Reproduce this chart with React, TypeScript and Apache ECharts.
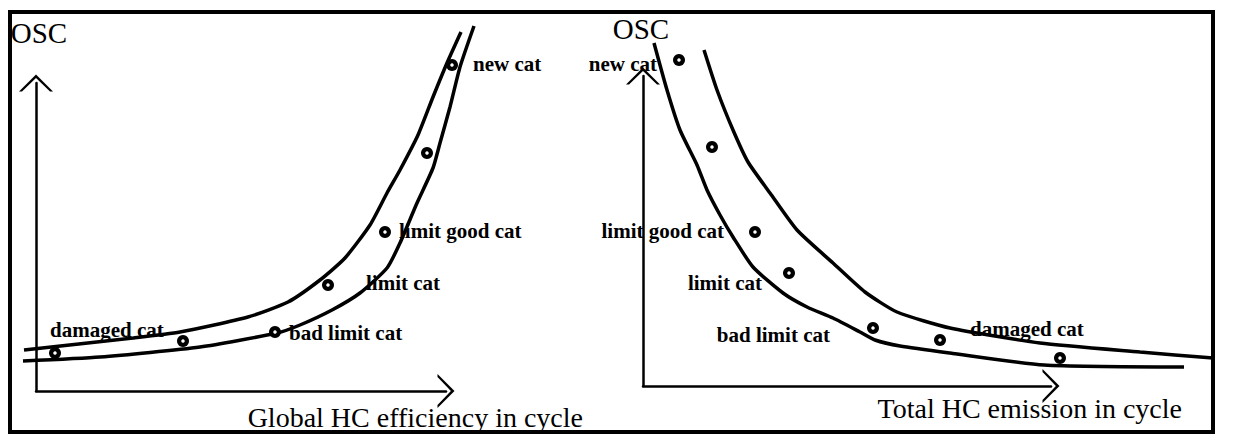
import { useEffect, useRef } from "react";
import * as echarts from "echarts";

// Left panel (Global HC efficiency vs OSC), schematic units
const leftUpper = [[-12, 41], [97, 53], [144, 59], [212, 74], [252, 89], [284, 111], [309, 133], [334, 166], [351, 198], [364, 221], [382, 256], [397, 294], [411, 328], [425, 359]];
const leftLower = [[-13, 30], [64, 34], [164, 44], [241, 58], [264, 66], [296, 81], [324, 98], [351, 123], [364, 148], [381, 188], [397, 223], [404, 248], [414, 284], [424, 324], [438, 365]];
const leftPoints = [[19, 38], [147, 50], [239, 59], [292, 106], [349, 159], [391, 238], [416, 326]];
const leftLabels = ["damaged cat", "", "bad limit cat", "limit cat", "limit good cat", "", "new cat"];

// Right panel (Total HC emission vs OSC), schematic units
const rightUpper = [[61, 336], [74, 296], [90, 256], [105, 224], [127, 193], [154, 156], [190, 123], [222, 94], [254, 74], [307, 58], [397, 43], [497, 34], [570, 28]];
const rightLower = [[11, 343], [24, 296], [37, 256], [54, 221], [64, 196], [77, 171], [90, 149], [110, 119], [140, 93], [164, 79], [190, 68], [217, 54], [232, 46], [257, 40], [307, 33], [401, 21], [541, 19]];
const rightPoints = [[36, 326], [69, 239], [112, 154], [146, 113], [230, 58], [297, 46], [417, 28]];
const rightLabels = ["new cat", "", "limit good cat", "limit cat", "bad limit cat", "damaged cat", ""];

const yName = "OSC";
const leftXName = "Global HC efficiency in cycle";
const rightXName = "Total HC emission in cycle";

// label placement (align, dx, dy) in pixels
const leftLabelLayout: any[] = [["left", -5, -23], null, ["left", 14, 1], ["left", 38, -2], ["left", 14, -1], null, ["left", 21, -1]];
const rightLabelLayout: any[] = [["right", -22, 4], null, ["right", -31, -1], ["right", -27, 10], ["right", -43, 7], ["left", 30, -11], null];

const FONT = "Liberation Serif";
const chevron = "path://M0,17 L17,0 L34,17 L31,17 L17,3.6 L3,17 Z";

function pointData(points: number[][], labels: string[], layout: any[]) {
  return points.map((p, i) => {
    const l = layout[i];
    if (!labels[i] || !l) return { value: p, label: { show: false } };
    return {
      value: p,
      label: {
        show: true,
        formatter: labels[i],
        position: "inside",
        align: l[0],
        verticalAlign: "middle",
        offset: [l[1], l[2]],
        color: "#000",
        fontFamily: FONT,
        fontWeight: "bold",
        fontSize: 21,
      },
    };
  });
}

const hidden = { axisLine: { show: false }, axisTick: { show: false }, axisLabel: { show: false }, splitLine: { show: false } };

function xAxisOpt(gridIndex: number, max: number, name: string, gap: number, padTop: number) {
  return {
    type: "value",
    gridIndex,
    min: 0,
    max,
    name,
    nameLocation: "end",
    nameGap: gap,
    nameTextStyle: { color: "#000", fontFamily: FONT, fontSize: 28, align: "right", verticalAlign: "top", padding: [padTop, 0, 0, 0] },
    axisLine: { show: true, symbol: ["none", chevron], symbolSize: [34, 17], lineStyle: { color: "#000", width: 2.5 } },
    axisTick: { show: false },
    axisLabel: { show: false },
    splitLine: { show: false },
  };
}

function yAxisOpt(gridIndex: number, max: number, gap: number, pad: number[]) {
  return {
    type: "value",
    gridIndex,
    min: 0,
    max,
    name: yName,
    nameLocation: "end",
    nameGap: gap,
    nameTextStyle: { color: "#000", fontFamily: FONT, fontSize: 29, align: "center", verticalAlign: "middle", padding: pad },
    axisLine: { show: true, symbol: ["none", chevron], symbolSize: [34, 17], lineStyle: { color: "#000", width: 2.5 } },
    axisTick: { show: false },
    axisLabel: { show: false },
    splitLine: { show: false },
  };
}

function lineSeries(data: number[][], idx: number) {
  return {
    type: "line",
    xAxisIndex: idx,
    yAxisIndex: idx,
    data,
    symbol: "none",
    showSymbol: false,
    smooth: 0.2,
    clip: false,
    silent: true,
    lineStyle: { color: "#000", width: 3.5 },
  };
}

function dotSeries(points: number[][], labels: string[], layout: any[], idx: number) {
  return [
    {
      type: "scatter",
      xAxisIndex: idx,
      yAxisIndex: idx,
      data: pointData(points, labels, layout),
      symbol: "circle",
      symbolSize: 12,
      clip: false,
      silent: true,
      z: 5,
      itemStyle: { color: "#000", opacity: 1 },
    },
    {
      type: "scatter",
      xAxisIndex: idx,
      yAxisIndex: idx,
      data: points,
      symbol: "circle",
      symbolSize: 3.5,
      clip: false,
      silent: true,
      z: 6,
      itemStyle: { color: "#fff", opacity: 1 },
    },
  ];
}

export default function App() {
  const ref = useRef<HTMLDivElement>(null);
  useEffect(() => {
    if (!ref.current) return;
    const chart = echarts.init(ref.current, null, { renderer: "svg" });
    chart.setOption({
      animation: false,
      backgroundColor: "#fff",
      grid: [
        // axis frames
        { left: 36, top: 83, width: 410, height: 308, containLabel: false, outerBoundsMode: "none" },
        { left: 643, top: 76, width: 408, height: 310, containLabel: false, outerBoundsMode: "none" },
        // data frames (same scale, wider so curves are not cut)
        { left: 16, top: 83, width: 470, height: 308, containLabel: false, outerBoundsMode: "none" },
        { left: 603, top: 76, width: 640, height: 310, containLabel: false, outerBoundsMode: "none" },
      ],
      xAxis: [
        xAxisOpt(0, 410, leftXName, 137, 12),
        xAxisOpt(1, 408, rightXName, 131, 8),
        { type: "value", gridIndex: 2, min: -20, max: 450, ...hidden },
        { type: "value", gridIndex: 3, min: -40, max: 600, ...hidden },
      ],
      yAxis: [
        yAxisOpt(0, 308, 50, [0, 0, 0, 6]),
        yAxisOpt(1, 310, 47, [0, 4, 0, 0]),
        { type: "value", gridIndex: 2, min: 0, max: 308, ...hidden },
        { type: "value", gridIndex: 3, min: 0, max: 310, ...hidden },
      ],
      graphic: [
        {
          type: "rect",
          shape: { x: 10, y: 12, width: 1203, height: 420 },
          style: { fill: "none", stroke: "#000", lineWidth: 4 },
          silent: true,
        },
      ],
      series: [
        lineSeries(leftUpper, 2),
        lineSeries(leftLower, 2),
        lineSeries(rightUpper, 3),
        lineSeries(rightLower, 3),
        ...dotSeries(leftPoints, leftLabels, leftLabelLayout, 2),
        ...dotSeries(rightPoints, rightLabels, rightLabelLayout, 3),
      ],
    });
    return () => chart.dispose();
  }, []);
  return <div ref={ref} style={{ position: "absolute", left: 0, top: 0, width: 1248, height: 440 }} />;
}
